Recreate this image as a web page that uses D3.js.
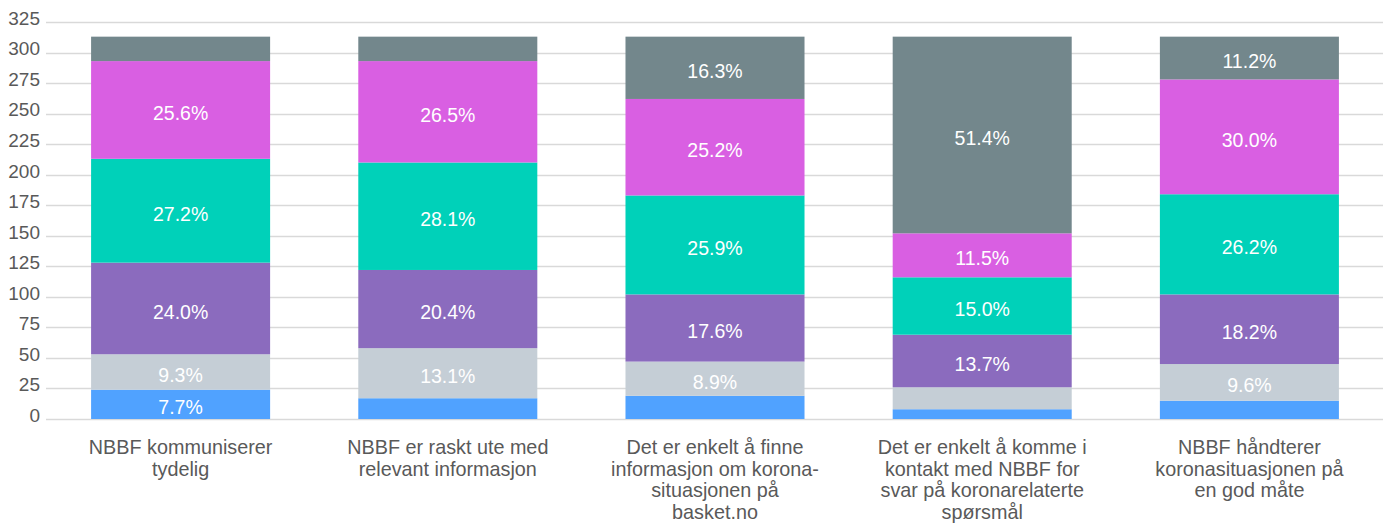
<!DOCTYPE html>
<html>
<head>
<meta charset="utf-8">
<script src="https://cdn.jsdelivr.net/npm/d3@7"></script>
<style>
  body { margin: 0; background: #fff; }
  text { font-family: "Liberation Sans", Arial, sans-serif; }
</style>
</head>
<body>
<div id="chart"></div>
<script>
// categories (explicit line breaks as in the original)
const categories = [
  ["NBBF kommuniserer", "tydelig"],
  ["NBBF er raskt ute med", "relevant informasjon"],
  ["Det er enkelt å finne", "informasjon om korona-", "situasjonen på", "basket.no"],
  ["Det er enkelt å komme i", "kontakt med NBBF for", "svar på koronarelaterte", "spørsmål"],
  ["NBBF håndterer", "koronasituasjonen på", "en god måte"]
]

// series values, bottom to top (answer counts)
const s1 = [24, 17, 19, 8, 15]
const s2 = [29, 41, 28, 18, 30]
const s3 = [75, 64, 55, 43, 57]
const s4 = [85, 88, 81, 47, 82]
const s5 = [80, 83, 79, 36, 94]
const s6 = [20, 20, 51, 161, 35]

const series = [s1, s2, s3, s4, s5, s6]
const colors = ["#50a2ff", "#c5ced6", "#8b6bbe", "#00d1b9", "#d95fe2", "#73878c"]

const yTicks = d3.range(0, 326, 25)

const width = 1391
const height = 528
const margin = {top: 22, right: 8, bottom: 109, left: 47}

const svg = d3.select("#chart")
  .append("svg")
  .attr("width", width)
  .attr("height", height)

const x = d3.scaleBand()
  .domain(d3.range(categories.length))
  .range([margin.left, width - margin.right])
  .paddingInner(0.33)
  .paddingOuter(0.165)

const y = d3.scaleLinear()
  .domain([0, 325])
  .range([height - margin.bottom, margin.top])

// gridlines
svg.append("g")
  .selectAll("line")
  .data(yTicks)
  .enter()
  .append("line")
  .attr("x1", margin.left - 1)
  .attr("x2", width - margin.right)
  .attr("y1", d => Math.round(y(d)) + 0.5)
  .attr("y2", d => Math.round(y(d)) + 0.5)
  .attr("stroke", "#d9d9d9")
  .attr("stroke-width", 1.3)

// y tick labels (sit a little above their gridline)
svg.append("g")
  .selectAll("text")
  .data(yTicks)
  .enter()
  .append("text")
  .attr("x", 40)
  .attr("y", d => y(d))
  .attr("dy", "0.15em")
  .attr("text-anchor", "end")
  .attr("fill", "#595959")
  .style("font-size", "19px")
  .text(d => d)

// stack data
const rows = categories.map((c, i) => {
  const r = {i: i}
  series.forEach((s, k) => { r["k" + k] = s[i] })
  return r
})
const keys = series.map((s, k) => "k" + k)
const stacked = d3.stack().keys(keys)(rows)
const totals = categories.map((c, i) => d3.sum(series, s => s[i]))

const layer = svg.append("g")
  .selectAll("g")
  .data(stacked)
  .enter()
  .append("g")
  .attr("fill", (d, k) => colors[k])

layer.selectAll("rect")
  .data(d => d)
  .enter()
  .append("rect")
  .attr("x", d => x(d.data.i))
  .attr("width", x.bandwidth())
  .attr("y", d => y(d[1]))
  .attr("height", d => y(d[0]) - y(d[1]))

// percent labels
layer.selectAll("text")
  .data(d => d)
  .enter()
  .filter(d => (d[1] - d[0]) / totals[d.data.i] >= 0.07)
  .append("text")
  .attr("x", d => x(d.data.i) + x.bandwidth() / 2)
  .attr("y", d => y((d[0] + d[1]) / 2))
  .attr("dy", "0.52em")
  .attr("text-anchor", "middle")
  .attr("fill", "#ffffff")
  .style("font-size", "19.5px")
  .text(d => (100 * (d[1] - d[0]) / totals[d.data.i]).toFixed(1) + "%")

// category labels
const cat = svg.append("g")
  .selectAll("text")
  .data(categories)
  .enter()
  .append("text")
  .attr("text-anchor", "middle")
  .attr("fill", "#595959")
  .style("font-size", "19.8px")

cat.selectAll("tspan")
  .data((d, i) => d.map(line => ({line: line, i: i})))
  .enter()
  .append("tspan")
  .attr("x", d => x(d.i) + x.bandwidth() / 2)
  .attr("y", (d, j) => 454 + j * 21.7)
  .text(d => d.line)
</script>
</body>
</html>
